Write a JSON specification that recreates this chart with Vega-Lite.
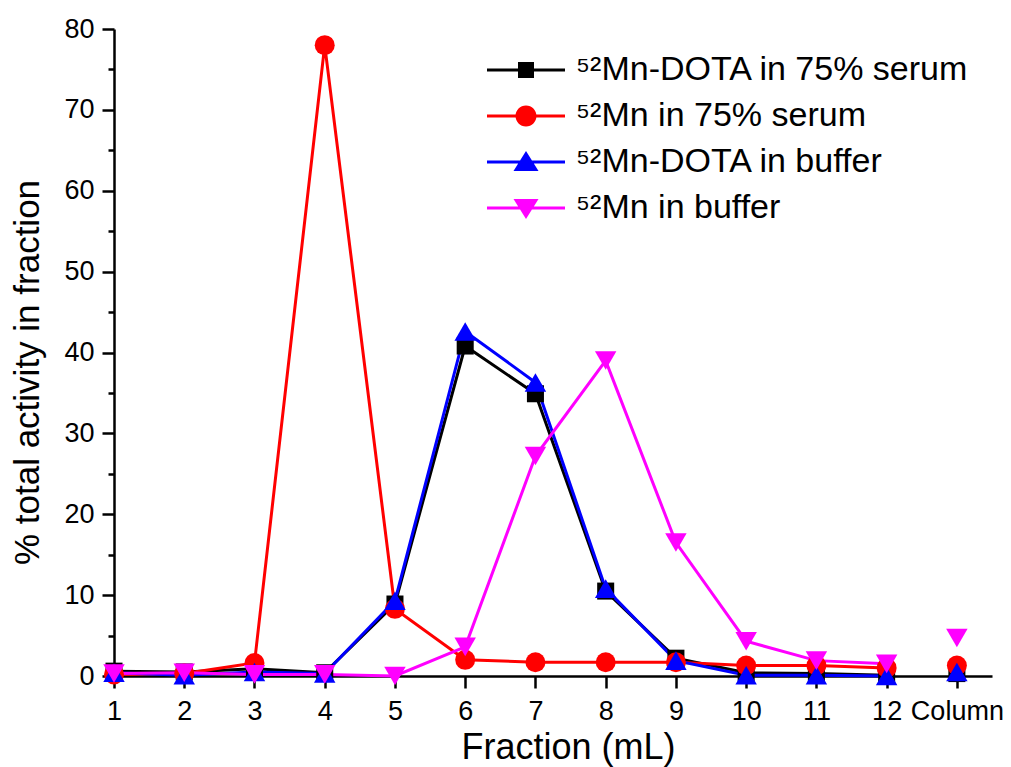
{
  "$schema": "https://vega.github.io/schema/vega-lite/v6.json",
  "width": 878,
  "height": 647,
  "autosize": {"type": "none"},
  "padding": {"left": 114, "top": 29, "right": 19, "bottom": 91},
  "background": "white",
  "config": {
    "view": {"stroke": null},
    "font": "Liberation Sans",
    "axis": {"grid": false, "domainColor": "black", "domainWidth": 2.5, "tickColor": "black", "tickWidth": 2.5, "labelColor": "black", "titleColor": "black", "labelFont": "Liberation Sans", "titleFont": "Liberation Sans", "titleFontWeight": "normal"}
  },
  "data": {"values": [
    {"s": "⁵²Mn-DOTA in 75% serum", "x": 1, "y": 0.6},
    {"s": "⁵²Mn-DOTA in 75% serum", "x": 2, "y": 0.5},
    {"s": "⁵²Mn-DOTA in 75% serum", "x": 3, "y": 0.9},
    {"s": "⁵²Mn-DOTA in 75% serum", "x": 4, "y": 0.4},
    {"s": "⁵²Mn-DOTA in 75% serum", "x": 5, "y": 8.9},
    {"s": "⁵²Mn-DOTA in 75% serum", "x": 6, "y": 40.8},
    {"s": "⁵²Mn-DOTA in 75% serum", "x": 7, "y": 34.9},
    {"s": "⁵²Mn-DOTA in 75% serum", "x": 8, "y": 10.5},
    {"s": "⁵²Mn-DOTA in 75% serum", "x": 9, "y": 2.2},
    {"s": "⁵²Mn-DOTA in 75% serum", "x": 10, "y": 0.4},
    {"s": "⁵²Mn-DOTA in 75% serum", "x": 11, "y": 0.3},
    {"s": "⁵²Mn-DOTA in 75% serum", "x": 12, "y": 0.1},
    {"s": "⁵²Mn-DOTA in 75% serum", "x": 13, "y": 0.3},
    {"s": "⁵²Mn in 75% serum", "x": 1, "y": 0.2},
    {"s": "⁵²Mn in 75% serum", "x": 2, "y": 0.3},
    {"s": "⁵²Mn in 75% serum", "x": 3, "y": 1.6},
    {"s": "⁵²Mn in 75% serum", "x": 4, "y": 78.0},
    {"s": "⁵²Mn in 75% serum", "x": 5, "y": 8.3},
    {"s": "⁵²Mn in 75% serum", "x": 6, "y": 2.0},
    {"s": "⁵²Mn in 75% serum", "x": 7, "y": 1.7},
    {"s": "⁵²Mn in 75% serum", "x": 8, "y": 1.7},
    {"s": "⁵²Mn in 75% serum", "x": 9, "y": 1.7},
    {"s": "⁵²Mn in 75% serum", "x": 10, "y": 1.3},
    {"s": "⁵²Mn in 75% serum", "x": 11, "y": 1.3},
    {"s": "⁵²Mn in 75% serum", "x": 12, "y": 1.0},
    {"s": "⁵²Mn in 75% serum", "x": 13, "y": 1.3},
    {"s": "⁵²Mn-DOTA in buffer", "x": 1, "y": 0.4},
    {"s": "⁵²Mn-DOTA in buffer", "x": 2, "y": 0.1},
    {"s": "⁵²Mn-DOTA in buffer", "x": 3, "y": 0.5},
    {"s": "⁵²Mn-DOTA in buffer", "x": 4, "y": 0.3},
    {"s": "⁵²Mn-DOTA in buffer", "x": 5, "y": 9.3},
    {"s": "⁵²Mn-DOTA in buffer", "x": 6, "y": 42.6},
    {"s": "⁵²Mn-DOTA in buffer", "x": 7, "y": 36.3},
    {"s": "⁵²Mn-DOTA in buffer", "x": 8, "y": 10.8},
    {"s": "⁵²Mn-DOTA in buffer", "x": 9, "y": 1.9},
    {"s": "⁵²Mn-DOTA in buffer", "x": 10, "y": 0.1},
    {"s": "⁵²Mn-DOTA in buffer", "x": 11, "y": 0.1},
    {"s": "⁵²Mn-DOTA in buffer", "x": 12, "y": 0.0},
    {"s": "⁵²Mn-DOTA in buffer", "x": 13, "y": 0.5},
    {"s": "⁵²Mn in buffer", "x": 1, "y": 0.3},
    {"s": "⁵²Mn in buffer", "x": 2, "y": 0.4},
    {"s": "⁵²Mn in buffer", "x": 3, "y": 0.2},
    {"s": "⁵²Mn in buffer", "x": 4, "y": 0.2},
    {"s": "⁵²Mn in buffer", "x": 5, "y": 0.0},
    {"s": "⁵²Mn in buffer", "x": 6, "y": 3.6},
    {"s": "⁵²Mn in buffer", "x": 7, "y": 27.2},
    {"s": "⁵²Mn in buffer", "x": 8, "y": 39.0},
    {"s": "⁵²Mn in buffer", "x": 9, "y": 16.5},
    {"s": "⁵²Mn in buffer", "x": 10, "y": 4.3},
    {"s": "⁵²Mn in buffer", "x": 11, "y": 1.9},
    {"s": "⁵²Mn in buffer", "x": 12, "y": 1.5},
    {"s": "⁵²Mn in buffer", "x": 13, "y": 4.7}
  ]},
  "layer": [
    {
      "transform": [{"filter": "datum.x <= 12"}],
      "mark": {"type": "line", "strokeWidth": 3},
      "encoding": {
        "x": {"field": "x", "type": "quantitative", "scale": {"domain": [1, 13.5], "nice": false, "zero": false},
          "axis": {"values": [1,2,3,4,5,6,7,8,9,10,11,12,13], "format": "d", "labelExpr": "datum.value == 13 ? 'Column' : datum.label", "tickSize": 12, "labelPadding": 10, "labelFontSize": 27, "title": "Fraction (mL)", "titleFontSize": 36, "titlePadding": 6, "titleX": 454, "labelFlush": false, "labelOverlap": false}},
        "y": {"field": "y", "type": "quantitative", "scale": {"domain": [0, 80], "nice": false},
          "axis": {"values": [0,10,20,30,40,50,60,70,80], "tickSize": 12, "labelPadding": 8, "labelFontSize": 27, "title": "% total activity in fraction", "titleFontSize": 35, "titlePadding": 18, "titleY": 343, "orient": "left"}},
        "color": {"field": "s", "type": "nominal",
          "scale": {"domain": ["⁵²Mn-DOTA in 75% serum", "⁵²Mn in 75% serum", "⁵²Mn-DOTA in buffer", "⁵²Mn in buffer"], "range": ["#000000", "#FF0000", "#0000FF", "#FF00FF"]},
          "legend": {"title": null, "orient": "none", "legendX": 395, "legendY": 24, "padding": 0, "symbolSize": 400, "symbolStrokeWidth": 0, "labelFontSize": 34, "labelFont": "Liberation Sans", "labelColor": "black", "labelOffset": 33, "labelLimit": 600, "rowPadding": 12,
            "encode": {"symbols": {"update": {
              "shape": {"signal": "datum.value === '⁵²Mn-DOTA in 75% serum' ? 'M-3.9,-0.15H3.9V0.15H-3.9Z M-0.8,-0.8H0.8V0.8H-0.8Z' : datum.value === '⁵²Mn-DOTA in buffer' ? 'M-3.9,-0.15H3.9V0.15H-3.9Z M0,-1.1L1.25,0.9H-1.25Z' : datum.value === '⁵²Mn in 75% serum' ? 'M-3.9,-0.15H3.9V0.15H-3.9Z M-1.05,0A1.05,1.05 0 1,1 1.05,0A1.05,1.05 0 1,1 -1.05,0Z' : 'M-3.9,-0.15H3.9V0.15H-3.9Z M0,1.1L-1.25,-0.9H1.25Z'"},
              "fill": {"signal": "scale('color', datum.value)"},
              "stroke": {"value": "transparent"},
              "strokeWidth": {"value": 0},
              "opacity": {"value": 1},
              "fillOpacity": {"value": 1}
            }}}}
        }
      }
    },
    {
      "transform": [{"filter": "datum.s === '⁵²Mn-DOTA in 75% serum'"}],
      "mark": {"type": "point", "filled": true, "opacity": 1, "size": 290, "shape": "square"},
      "encoding": {
        "x": {"field": "x", "type": "quantitative"},
        "y": {"field": "y", "type": "quantitative",
          "axis": {"values": [5,15,25,35,45,55,65,75], "tickSize": 6, "labels": false, "domain": false, "title": null, "orient": "left"}},
        "color": {"field": "s", "type": "nominal", "legend": null}
      }
    },
    {
      "transform": [{"filter": "datum.s === '⁵²Mn in 75% serum'"}],
      "mark": {"type": "point", "filled": true, "opacity": 1, "size": 400, "shape": "circle"},
      "encoding": {
        "x": {"field": "x", "type": "quantitative"},
        "y": {"field": "y", "type": "quantitative", "axis": null},
        "color": {"field": "s", "type": "nominal", "legend": null}
      }
    },
    {
      "transform": [{"filter": "datum.s === '⁵²Mn-DOTA in buffer'"}],
      "mark": {"type": "point", "filled": true, "opacity": 1, "size": 460, "shape": "triangle-up"},
      "encoding": {
        "x": {"field": "x", "type": "quantitative"},
        "y": {"field": "y", "type": "quantitative", "axis": null},
        "color": {"field": "s", "type": "nominal", "legend": null}
      }
    },
    {
      "transform": [{"filter": "datum.s === '⁵²Mn in buffer'"}],
      "mark": {"type": "point", "filled": true, "opacity": 1, "size": 460, "shape": "triangle-down"},
      "encoding": {
        "x": {"field": "x", "type": "quantitative"},
        "y": {"field": "y", "type": "quantitative", "axis": null},
        "color": {"field": "s", "type": "nominal", "legend": null}
      }
    }
  ],
  "resolve": {"axis": {"y": "independent"}}
}
